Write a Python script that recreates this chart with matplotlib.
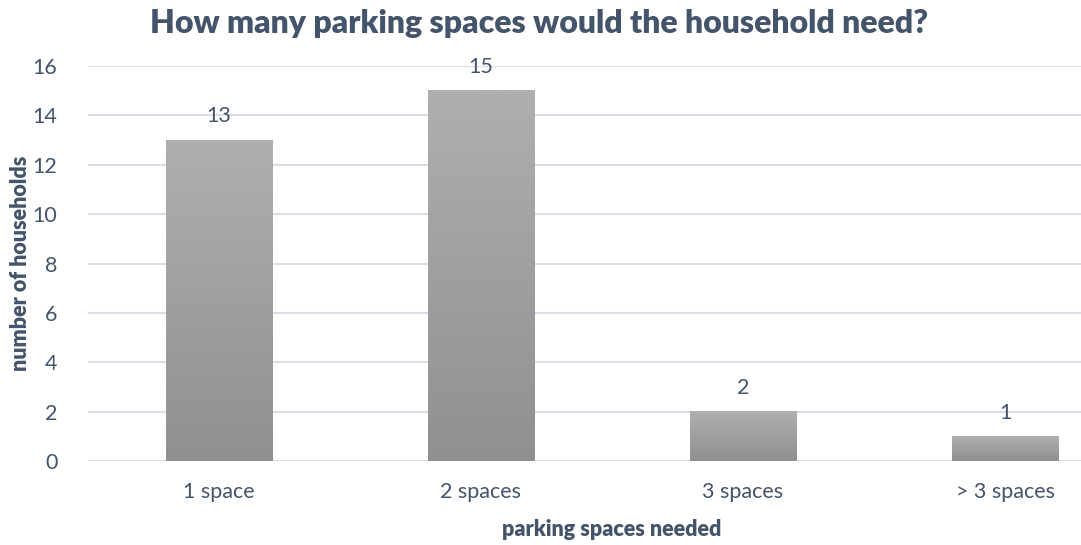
import numpy as np
import matplotlib.pyplot as plt

categories = ['1 space', '2 spaces', '3 spaces', '> 3 spaces']
households = [13, 15, 2, 1]
yticks = [0, 2, 4, 6, 8, 10, 12, 14, 16]

text_col = '#44546A'
plt.rcParams['font.family'] = ['Lato', 'DejaVu Sans']

fig = plt.figure(figsize=(10.81, 5.45), dpi=100)
ax = fig.add_axes([88 / 1081, 84 / 545, 1048 / 1081, 395 / 545])

x = np.arange(len(categories))
width = 0.405

# vertical grey gradient, light at the top, darker at the base
grad = np.linspace(0, 1, 256).reshape(-1, 1)
cmap = plt.matplotlib.colors.LinearSegmentedColormap.from_list('g', ['#AFAFAF', '#909090'])

bars = ax.bar(x, households, width=width, color='none', zorder=3)
for b, v in zip(bars, households):
    x0 = b.get_x()
    ax.imshow(grad, cmap=cmap, aspect='auto', zorder=3,
              extent=(x0, x0 + width, 0, v), interpolation='bilinear')
    ax.text(b.get_x() + width / 2, v + 0.55, str(v), ha='center', va='bottom',
            fontsize=15.5, color=text_col)

ax.set_xlim(-0.5, len(categories) - 0.5)
ax.set_ylim(0, 16)
ax.set_yticks(yticks)
ax.set_xticks(x)
ax.set_xticklabels(categories)
ax.grid(axis='y', color='#D9DEE6', linewidth=1.5, zorder=0)
ax.set_axisbelow(True)
for s in ax.spines.values():
    s.set_visible(False)
ax.tick_params(length=0, labelsize=15.5, labelcolor=text_col)
ax.tick_params(axis='y', pad=22)
ax.tick_params(axis='x', pad=15)

ax.set_ylabel('number of households', fontsize=15.5, fontweight='heavy', color=text_col, labelpad=1)
fig.text(612 / 1081, 1 - 530 / 545, 'parking spaces needed', ha='center', va='center',
         fontsize=15.5, fontweight='heavy', color=text_col)
fig.text(539 / 1081, 1 - 24 / 545, 'How many parking spaces would the household need?',
         ha='center', va='center', fontsize=23, fontweight='heavy', color=text_col)

fig.savefig('out.png', dpi=100)
